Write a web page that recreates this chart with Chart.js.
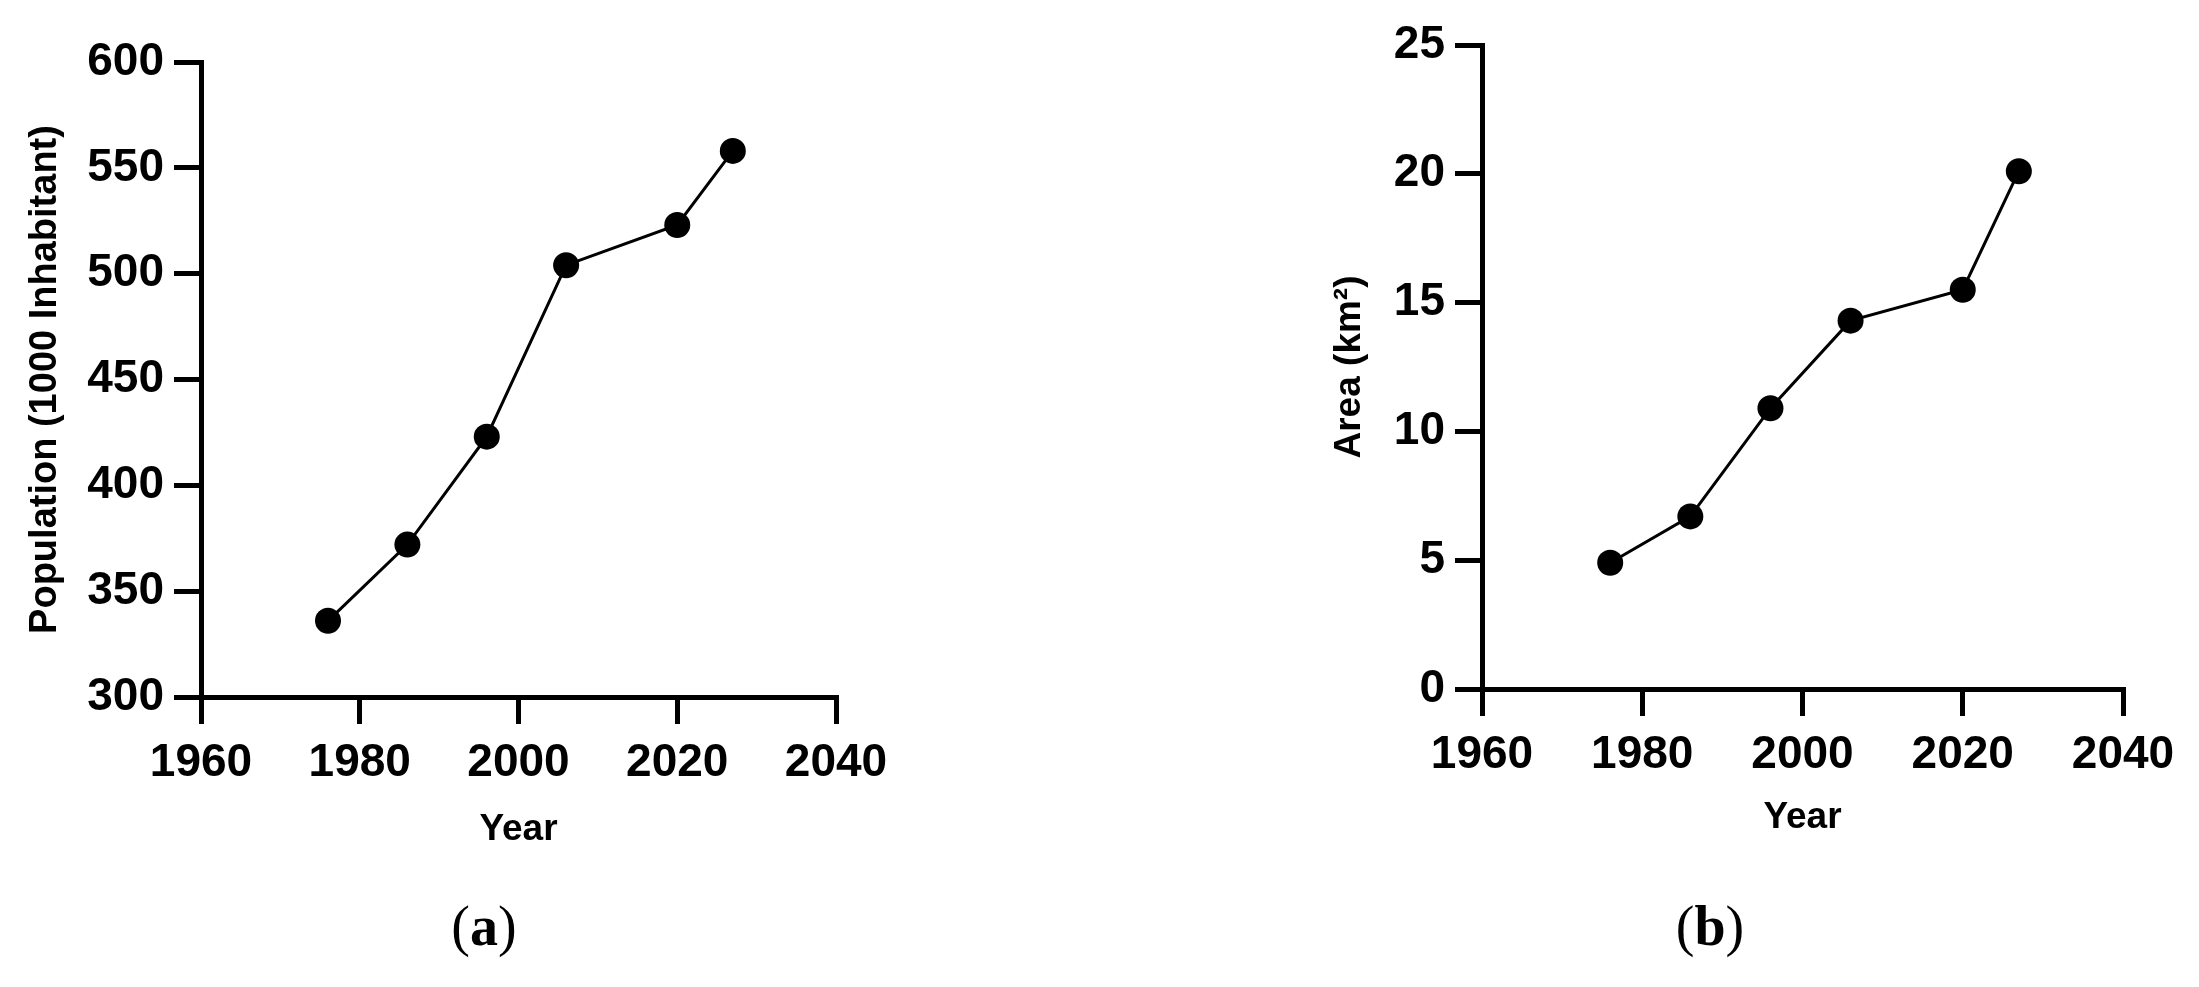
<!DOCTYPE html>
<html>
<head>
<meta charset="utf-8">
<script src="https://cdn.jsdelivr.net/npm/chart.js@4"></script>
<style>
   html, body { margin: 0; padding: 0; background: #fff; }
   body { width: 2199px; height: 987px; position: relative; overflow: hidden; }
   canvas { position: absolute; top: 0; }
   #chartA { left: 0; }
   #chartB { left: 1100px; }
   .caption {
      position: absolute;
      top: 898px;
      font-family: 'Liberation Serif', 'Times New Roman', serif;
      font-size: 56px;
      color: #000;
      transform: translateX(-50%);
      line-height: 1;
   }
   .caption b { font-weight: bold; }
</style>
</head>
<body>
<canvas id="chartA" width="1100" height="987"></canvas>
<canvas id="chartB" width="1099" height="987"></canvas>
<div class="caption" style="left:484px">(<b>a</b>)</div>
<div class="caption" style="left:1710px">(<b>b</b>)</div>
<script>
// data
var years      = [1976, 1986, 1996, 2006, 2020, 2027];
var population = [336, 372, 423, 504, 523, 558];
var area       = [4.9, 6.7, 10.9, 14.3, 15.5, 20.1];

var yearTicks = [1960, 1980, 2000, 2020, 2040];

var FONT = "'Liberation Sans', Arial, sans-serif";

var toPoints = function toPoints(xs, ys) {
   return xs.map((x, i) => ({x: x, y: ys[i]}));
};

var makeChart = function makeChart(canvasId, values, yMin, yMax, yStep, yTitle, box) {
   var axisCommon = {
      border: { display: true, color: '#000', width: 5 },
      grid: {
         display: true,
         drawOnChartArea: false,
         drawTicks: true,
         tickLength: 27,
         lineWidth: 5,
         color: '#000'
      }
   };

   return new Chart(document.getElementById(canvasId), {
      type: 'line',
      data: {
         datasets: [{
            data: toPoints(years, values),
            borderColor: '#000',
            borderWidth: 3,
            pointRadius: 13,
            pointBackgroundColor: '#000',
            pointBorderColor: '#000',
            pointBorderWidth: 0,
            tension: 0,
            clip: false
         }]
      },
      options: {
         responsive: false,
         animation: false,
         devicePixelRatio: 1,
         layout: {
            padding: { left: 0, top: box.top, right: box.right, bottom: box.bottom }
         },
         scales: {
            x: Object.assign({}, axisCommon, {
               type: 'linear',
               position: 'bottom',
               min: 1960,
               max: 2040,
               afterBuildTicks: scale => { scale.ticks = yearTicks.map(v => ({value: v})); },
               afterFit: scale => { scale.height = box.xHeight; },
               ticks: {
                  color: '#000',
                  padding: 12,
                  maxRotation: 0,
                  font: { family: FONT, size: 46, weight: 'bold' },
                  callback: value => String(value)
               },
               title: {
                  display: true,
                  text: 'Year',
                  color: '#000',
                  padding: 0,
                  font: { family: FONT, size: 37, weight: 'bold' }
               }
            }),
            y: Object.assign({}, axisCommon, {
               type: 'linear',
               position: 'left',
               min: yMin,
               max: yMax,
               afterFit: scale => { scale.width = box.yWidth; },
               ticks: {
                  stepSize: yStep,
                  color: '#000',
                  padding: 10,
                  font: { family: FONT, size: 46, weight: 'bold' },
                  callback: value => String(value)
               },
               title: {
                  display: true,
                  text: yTitle,
                  color: '#000',
                  padding: { top: box.titleOffset, bottom: 0 },
                  font: { family: FONT, size: box.titleSize, weight: 'bold' }
               }
            })
         },
         plugins: {
            legend: { display: false },
            tooltip: { enabled: false }
         }
      }
   });
};

makeChart('chartA', population, 300, 600, 50, 'Population (1000 Inhabitant)',
          { top: 62, right: 264, bottom: 135, xHeight: 155, yWidth: 201, titleOffset: 23, titleSize: 38 });
makeChart('chartB', area, 0, 25, 5, 'Area (km\u00b2)',
          { top: 45, right: 76, bottom: 147, xHeight: 151, yWidth: 382, titleOffset: 228, titleSize: 37 });
</script>
</body>
</html>
